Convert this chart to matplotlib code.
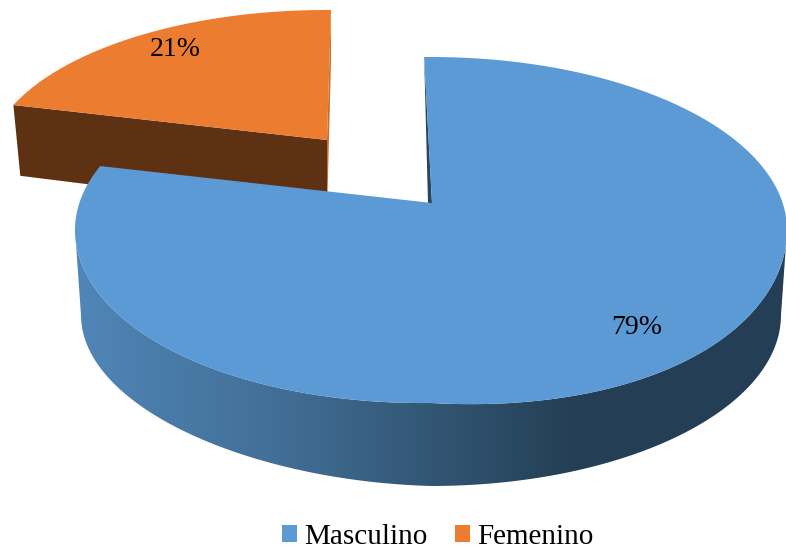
import numpy as np
import matplotlib
matplotlib.use("Agg")
from matplotlib import pyplot as plt
from matplotlib.patches import Patch, Polygon
from matplotlib.colors import LinearSegmentedColormap

categorias = ["Masculino", "Femenino"]
porcentajes = [79, 21]
etiquetas = ["79%", "21%"]

azul = "#5b9ad5"
naranja = "#ec7c30"

plt.rcParams["font.family"] = ["Liberation Serif", "DejaVu Serif"]

fig = plt.figure(figsize=(7.86, 5.5), dpi=100)
ax = fig.add_axes([0, 0, 1, 1])
ax.set_xlim(0, 786)
ax.set_ylim(550, 0)
ax.axis("off")


# punto donde un rayo desde el vertice corta la elipse de la cara superior
def punto_borde(vertice, centro, rx, ry, angulo):
    t = np.radians(angulo)
    dx, dy = np.sin(t), -np.cos(t)
    ox = (vertice[0] - centro[0]) / rx
    oy = (vertice[1] - centro[1]) / ry
    b = ox * dx + oy * dy
    c = ox**2 + oy**2 - 1
    d = -b + np.sqrt(b**2 - c)
    return np.array([centro[0] + rx * (ox + d * dx), centro[1] + ry * (oy + d * dy)])


def arco(vertice, centro, rx, ry, a0, a1, n=200):
    return np.array([punto_borde(vertice, centro, rx, ry, a) for a in np.linspace(a0, a1, n)])


# la perspectiva deforma la mitad delantera: no es una elipse exacta
def deformar(puntos, centro, rx, ry, der, izq):
    puntos = np.array(puntos, dtype=float)
    t = np.arctan2((puntos[:, 1] - centro[1]) / ry, (puntos[:, 0] - centro[0]) / rx)
    s = np.sin(2 * t)
    dy = np.where(s > 0, der * s, -izq * s)
    puntos[:, 1] += np.where(t > 0, dy, 0)
    return puntos


inicio = -1.5
fin_azul = inicio + porcentajes[0] * 3.6

# Porcion naranja (separada)
v_nar = np.array([327.0, 140.0])
c_nar = (326.0, 165.0)
arco_nar = arco(v_nar, c_nar, 339, 155, fin_azul + 0.8, fin_azul + 0.8 + porcentajes[1] * 3.6 * 1.02)
izq = arco_nar[0]
der = arco_nar[-1]
v_bajo = v_nar + np.array([0, 74])
izq_bajo = v_bajo + (izq - v_nar) * 0.978 + np.array([0, -4])
ax.add_patch(Polygon([der, der + [0, 50], v_bajo, v_nar], closed=True, fc="#c5702f", ec="none", zorder=1))
ax.add_patch(Polygon([izq, v_nar, v_bajo, izq_bajo], closed=True, fc="#5f3113", ec="none", zorder=2))
ax.add_patch(Polygon(np.vstack([[v_nar], arco_nar]), closed=True, fc=naranja, ec="none", zorder=3))

# Porcion azul: lado con degradado
v_azul = np.array([432.0, 203.0])
centro = (431.0, 230.0)
rx, ry = 356, 173
centro_bajo = (431.0, 315.0)
rx_bajo, ry_bajo = 350, 171

t = np.linspace(0, np.pi, 300)
borde_sup = np.c_[centro[0] + rx * np.cos(t), centro[1] + ry * np.sin(t)]
borde_sup = deformar(borde_sup, centro, rx, ry, 10, 2)
borde_inf = np.c_[centro_bajo[0] + rx_bajo * np.cos(t), centro_bajo[1] + ry_bajo * np.sin(t)]
borde_inf = deformar(borde_inf, centro_bajo, rx_bajo, ry_bajo, 0, -5)
lado = Polygon(np.vstack([borde_sup, borde_inf[::-1]]), closed=True, transform=ax.transData, fc="none", ec="none")
ax.add_patch(lado)

cmap = LinearSegmentedColormap.from_list(
    "lado", [(0, "#5086b8"), (0.3, "#416d94"), (0.7, "#243f55"), (1, "#243f55")]
)
grad = np.linspace(0, 1, 512).reshape(1, -1)
img = ax.imshow(grad, cmap=cmap, extent=(75, 787, 500, 190), aspect="auto", zorder=4)
img.set_clip_path(lado)
ax.set_xlim(0, 786)
ax.set_ylim(550, 0)

# Cara interior y cara superior
arriba = punto_borde(v_azul, centro, rx, ry, inicio)
ax.add_patch(Polygon([arriba, (428, 203), v_azul], closed=True, fc="#26455f", ec="none", zorder=5))
arco_azul = arco(v_azul, centro, rx, ry, inicio, fin_azul, 500)
arco_azul = deformar(arco_azul, centro, rx, ry, 10, 2)
ax.add_patch(Polygon(np.vstack([[v_azul], arco_azul]), closed=True, fc=azul, ec="none", zorder=6))

ax.text(637, 328, etiquetas[0], fontsize=20, color="black", ha="center", va="center", zorder=7)
ax.text(175, 49, etiquetas[1], fontsize=20, color="black", ha="center", va="center", zorder=7)

handles = [Patch(facecolor=azul, label=categorias[0]), Patch(facecolor=naranja, label=categorias[1])]
fig.legend(handles=handles, loc="lower center", bbox_to_anchor=(0.557, -0.047), ncol=2, frameon=False,
           fontsize=21, handlelength=0.52, handleheight=0.52, handletextpad=0.25, columnspacing=0.95)

fig.savefig("out.png", dpi=100)
